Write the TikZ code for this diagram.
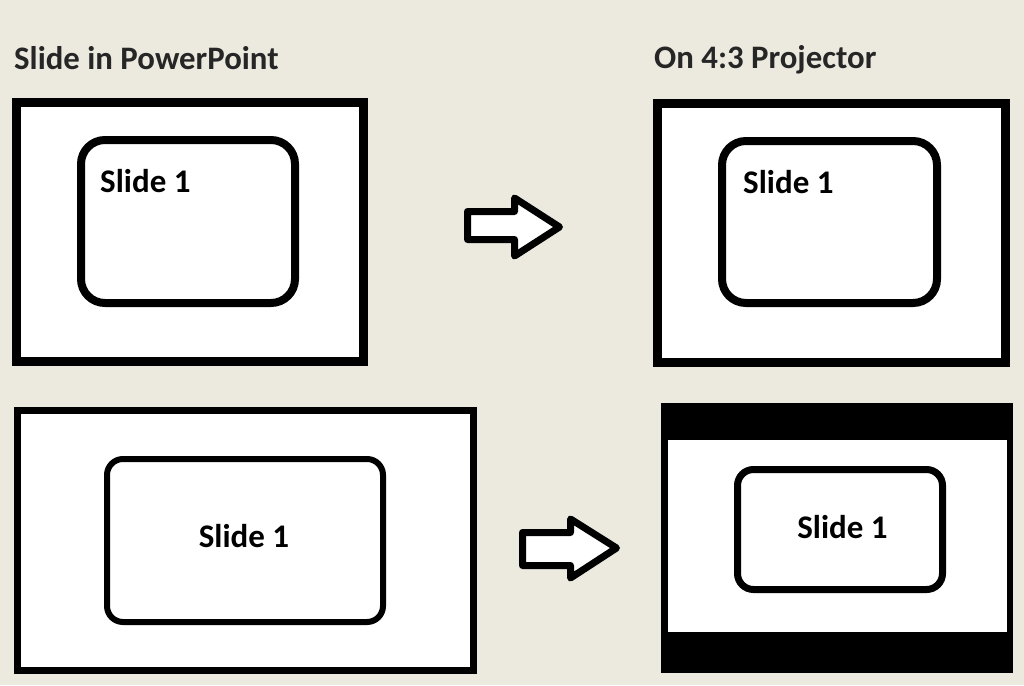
\documentclass[tikz,border=0pt]{standalone}
\usepackage{fontspec}
\setmainfont{Carlito}
\definecolor{bg}{RGB}{236,234,223}
\definecolor{titlec}{RGB}{38,38,38}
\begin{document}
\begin{tikzpicture}[x=1pt,y=-1pt,
  frame/.style={draw=black,fill=white,line join=miter},
  slidebox/.style={draw=black,fill=white},
  titletxt/.style={anchor=base west,inner sep=0pt,font=\bfseries\fontsize{32.8}{38}\selectfont,text=titlec},
  slidetxt/.style={inner sep=0pt,font=\bfseries\fontsize{33}{40}\selectfont,text=black},
  blockarrow/.style={draw=black,fill=white,line join=round}]
\fill[bg] (0,0) rectangle (1024,685);
\useasboundingbox (0,0) rectangle (1024,685);
% titles
\node[titletxt] (t1) at (14,69) {Slide in PowerPoint};
\node[titletxt] (t2) at (654,68) {On 4:3 Projector};
% top left
\draw[frame,line width=9pt] (16.5,102.5) rectangle (363.5,361.5);
\draw[slidebox,line width=8pt,rounded corners=24pt] (81,140) rectangle (295,303);
\node[slidetxt,anchor=base west] (s1) at (100,192) {Slide 1};
% top right
\draw[frame,line width=9pt] (657.5,103.5) rectangle (1005.5,362.5);
\draw[slidebox,line width=8pt,rounded corners=24pt] (722,141) rectangle (937,303);
\node[slidetxt,anchor=base west] (s2) at (743,193) {Slide 1};
% bottom left
\draw[frame,line width=7pt] (17.5,410.5) rectangle (473.5,670.5);
\draw[slidebox,line width=6pt,rounded corners=16pt] (107,459) rectangle (383,622);
\node[slidetxt,anchor=base] (s3) at (244,547) {Slide 1};
% bottom right
\fill[black] (661,403) rectangle (1013,673);
\fill[white] (668,440) rectangle (1007,632);
\draw[slidebox,line width=7pt,rounded corners=16pt] (737.5,469.5) rectangle (942.5,589.5);
\node[slidetxt,anchor=base] (s4) at (842.5,538) {Slide 1};
% arrows
\draw[blockarrow,line width=7pt] (467.5,211.5) -- (514.5,211.5) -- (514.5,198) -- (559.5,227) -- (514.5,256) -- (514.5,239.5) -- (467.5,239.5) -- cycle;
\draw[blockarrow,line width=7pt] (522.5,532.5) -- (570.5,532.5) -- (570.5,519) -- (616.5,548) -- (570.5,578) -- (570.5,565.5) -- (522.5,565.5) -- cycle;
\end{tikzpicture}
\end{document}
